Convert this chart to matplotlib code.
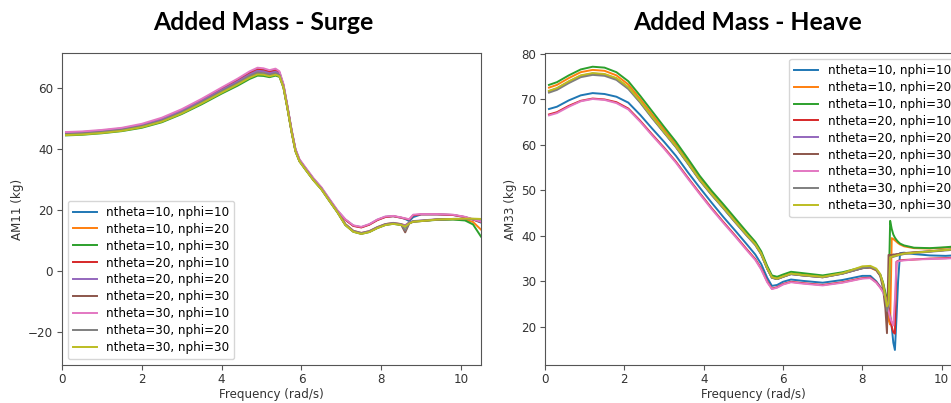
import numpy as np
from matplotlib import pyplot as plt

# Frequency grids (rad/s)
freq_surge = [0.1, 0.5, 1.0, 1.5, 2.0, 2.5, 3.0, 3.5, 4.0, 4.4, 4.7, 4.9, 5.05, 5.2, 5.35,
              5.45, 5.55, 5.65, 5.75, 5.85, 5.95, 6.1, 6.3, 6.5, 6.7, 6.9, 7.1, 7.3, 7.5,
              7.7, 7.9, 8.1, 8.3, 8.5, 8.6, 8.7, 8.8, 9.0, 9.4, 9.8, 10.1, 10.3, 10.5]

freq_heave = [0.1, 0.3, 0.6, 0.9, 1.2, 1.5, 1.8, 2.1, 2.4, 2.7, 3.0, 3.3, 3.6, 3.9, 4.2,
              4.5, 4.8, 5.1, 5.3, 5.45, 5.6, 5.72, 5.85, 6.0, 6.2, 6.5, 7.0, 7.5, 8.0, 8.2,
              8.35, 8.45, 8.52, 8.58, 8.62, 8.66, 8.7, 8.74, 8.78, 8.82, 8.86, 8.9, 8.95,
              9.05, 9.3, 9.7, 10.1, 10.5]

labels = ['ntheta=10, nphi=10', 'ntheta=10, nphi=20', 'ntheta=10, nphi=30',
          'ntheta=20, nphi=10', 'ntheta=20, nphi=20', 'ntheta=20, nphi=30',
          'ntheta=30, nphi=10', 'ntheta=30, nphi=20', 'ntheta=30, nphi=30']

# AM11 - surge added mass (kg)
am11_t10_p10 = [45.3, 45.5, 46.0, 46.7, 47.9, 49.9, 52.7, 56.0, 59.7, 62.6, 65.0, 66.1, 65.9, 65.3, 65.8,
                65.0, 60.9, 53.8, 46.3, 39.8, 36.4, 33.7, 30.2, 27.2, 23.4, 19.7,
                16.8, 14.8, 14.3, 15.2, 16.7, 17.7, 17.9, 17.4, 17.0, 16.3, 17.6, 18.5, 18.5, 18.3, 17.6, 16.8, 15.8]
am11_t10_p20 = [45.0, 45.2, 45.7, 46.4, 47.6, 49.5, 52.3, 55.6, 59.2, 62.0, 64.3, 65.5, 65.3, 64.7, 65.2,
                64.5, 60.5, 53.5, 46.0, 39.5, 36.2, 33.5, 30.0, 27.0, 23.2, 19.5,
                15.3, 13.1, 12.4, 13.0, 14.3, 15.3, 15.7, 15.3, 14.9, 15.8, 16.2, 16.4, 16.8, 16.9, 16.8, 16.0, 13.5]
am11_t10_p30 = [44.4, 44.6, 45.1, 45.8, 46.9, 48.7, 51.4, 54.6, 58.1, 60.7, 62.9, 64.0, 63.9, 63.5, 64.0,
                63.6, 60.0, 53.2, 45.7, 39.2, 35.9, 33.2, 29.7, 26.7, 22.9, 19.2,
                15.0, 12.8, 12.1, 12.7, 14.0, 15.0, 15.4, 15.0, 14.4, 15.6, 16.1, 16.3, 16.7, 16.8, 16.5, 15.2, 11.2]
am11_t20_p10 = [45.2, 45.4, 45.9, 46.6, 47.8, 49.8, 52.6, 55.9, 59.6, 62.4, 64.8, 66.0, 65.8, 65.2, 65.7,
                64.9, 60.8, 53.7, 46.2, 39.7, 36.3, 33.6, 30.1, 27.1, 23.3, 19.6,
                16.7, 14.7, 14.2, 15.1, 16.6, 17.6, 17.9, 17.4, 17.1, 16.8, 18.2, 18.5, 18.5, 18.3, 17.6, 16.8, 16.0]
am11_t20_p20 = [45.1, 45.3, 45.8, 46.5, 47.7, 49.6, 52.4, 55.7, 59.3, 62.1, 64.4, 65.6, 65.4, 64.8, 65.3,
                64.6, 60.6, 53.6, 46.1, 39.6, 36.2, 33.5, 30.0, 27.0, 23.1, 19.4,
                15.3, 13.1, 12.4, 13.0, 14.3, 15.3, 15.7, 15.3, 14.8, 15.9, 16.3, 16.5, 16.9, 17.0, 17.0, 16.9, 16.8]
am11_t20_p30 = [44.7, 44.9, 45.4, 46.1, 47.3, 49.1, 51.8, 55.1, 58.7, 61.4, 63.6, 64.8, 64.6, 64.1, 64.6,
                64.0, 60.2, 53.3, 45.8, 39.3, 36.0, 33.3, 29.8, 26.8, 23.0, 19.3,
                15.1, 12.9, 12.2, 12.8, 14.1, 15.1, 15.5, 15.1, 12.6, 15.5, 16.1, 16.3, 16.8, 17.0, 17.0, 17.0, 16.9]
am11_t30_p10 = [45.5, 45.7, 46.2, 46.9, 48.2, 50.2, 53.0, 56.4, 60.1, 63.0, 65.4, 66.6, 66.4, 65.8, 66.3,
                65.4, 61.2, 54.0, 46.5, 40.0, 36.6, 33.9, 30.4, 27.4, 23.6, 19.9,
                16.9, 14.9, 14.4, 15.3, 16.8, 17.8, 18.0, 17.5, 17.2, 16.9, 18.4, 18.6, 18.6, 18.4, 17.7, 16.9, 16.1]
am11_t30_p20 = [44.8, 45.0, 45.5, 46.2, 47.4, 49.2, 52.0, 55.3, 58.9, 61.6, 63.9, 65.0, 64.8, 64.3, 64.8,
                64.2, 60.3, 53.4, 45.9, 39.4, 36.1, 33.4, 29.9, 26.9, 23.1, 19.4,
                15.2, 13.0, 12.3, 12.9, 14.2, 15.2, 15.6, 15.2, 13.2, 15.6, 16.2, 16.4, 16.8, 17.0, 17.0, 17.0, 16.9]
am11_t30_p30 = [44.5, 44.7, 45.2, 45.9, 47.1, 48.9, 51.6, 54.9, 58.4, 61.1, 63.3, 64.4, 64.3, 63.8, 64.3,
                63.8, 60.1, 53.2, 45.7, 39.2, 35.9, 33.2, 29.7, 26.7, 22.9, 19.2,
                15.0, 12.8, 12.1, 12.7, 14.0, 15.0, 15.4, 15.0, 14.5, 15.5, 16.1, 16.3, 16.8, 17.0, 17.1, 17.1, 17.0]

# AM33 - heave added mass (kg)
am33_t10_p10 = [67.9, 68.4, 69.8, 70.9, 71.4, 71.2, 70.6, 69.3, 66.6, 63.6, 60.7, 57.6, 54.0, 50.6, 47.3,
                44.1, 41.1, 38.0, 35.9, 33.8, 30.8, 29.0, 29.2, 29.9, 30.4, 30.1, 29.7, 30.3, 31.2, 31.2,
                30.0, 28.8, 28.0, 27.0, 26.0, 24.5, 22.5, 20.0, 16.5, 14.9, 22.0, 30.0, 36.2, 36.3, 36.0, 35.7, 35.6, 35.8]
am33_t10_p20 = [72.6, 73.2, 74.7, 76.0, 76.5, 76.3, 75.3, 73.3, 70.1, 66.7, 63.4, 60.1, 56.4, 52.7, 49.4,
                46.4, 43.3, 40.2, 38.3, 36.2, 33.0, 31.0, 30.7, 31.2, 31.8, 31.5, 31.1, 31.8, 32.9, 33.0,
                32.4, 31.3, 29.6, 27.0, 24.0, 21.5, 20.5, 39.5, 39.3, 39.0, 38.7, 38.4, 38.1, 37.7, 37.3, 37.2, 37.4, 37.7]
am33_t10_p30 = [73.2, 73.8, 75.3, 76.6, 77.2, 77.0, 76.0, 74.0, 70.8, 67.4, 64.0, 60.7, 57.0, 53.2, 49.9,
                46.9, 43.8, 40.7, 38.7, 36.6, 33.4, 31.3, 31.0, 31.5, 32.1, 31.8, 31.3, 32.0, 33.1, 33.2,
                32.6, 31.5, 29.8, 27.5, 26.0, 26.5, 43.3, 41.5, 40.3, 39.6, 39.1, 38.7, 38.3, 37.9, 37.4, 37.3, 37.5, 37.8]
am33_t20_p10 = [66.7, 67.2, 68.6, 69.7, 70.2, 70.0, 69.4, 68.0, 65.3, 62.3, 59.4, 56.3, 52.8, 49.4, 46.1,
                43.0, 40.0, 36.9, 34.9, 32.8, 30.0, 28.4, 28.7, 29.4, 29.9, 29.6, 29.2, 29.8, 30.7, 30.8,
                29.8, 28.7, 27.8, 26.8, 25.5, 24.0, 22.0, 20.0, 18.8, 18.5, 34.3, 34.5, 34.6, 34.7, 34.8, 35.0, 35.1, 35.3]
am33_t20_p20 = [71.7, 72.3, 73.8, 75.1, 75.6, 75.4, 74.5, 72.5, 69.4, 66.0, 62.8, 59.6, 56.0, 52.3, 49.1,
                46.1, 43.0, 40.0, 38.1, 36.0, 32.8, 30.8, 30.5, 31.0, 31.6, 31.3, 30.9, 31.7, 32.9, 33.1,
                32.6, 31.4, 29.3, 26.2, 24.0, 25.0, 35.3, 35.4, 35.5, 35.6, 35.7, 35.8, 35.9, 36.1, 36.3, 36.6, 36.9, 37.2]
am33_t20_p30 = [71.8, 72.4, 73.9, 75.2, 75.7, 75.5, 74.6, 72.6, 69.5, 66.1, 62.8, 59.6, 56.0, 52.3, 49.1,
                46.1, 43.0, 40.0, 38.1, 36.0, 32.8, 30.8, 30.5, 31.0, 31.6, 31.3, 30.9, 31.7, 32.9, 33.1,
                32.5, 31.2, 28.5, 24.0, 18.6, 35.8, 35.8, 35.8, 35.9, 35.9, 36.0, 36.0, 36.1, 36.2, 36.4, 36.6, 36.9, 37.2]
am33_t30_p10 = [66.5, 67.0, 68.4, 69.6, 70.1, 69.9, 69.2, 67.8, 65.1, 62.1, 59.2, 56.1, 52.6, 49.2, 45.9,
                42.8, 39.8, 36.7, 34.7, 32.6, 29.8, 28.3, 28.6, 29.3, 29.8, 29.5, 29.1, 29.7, 30.6, 30.7,
                29.7, 28.6, 27.6, 26.5, 25.0, 23.5, 22.0, 21.0, 20.3, 26.0, 34.2, 34.4, 34.5, 34.6, 34.8, 34.9, 35.0, 35.2]
am33_t30_p20 = [71.5, 72.1, 73.6, 74.9, 75.4, 75.2, 74.3, 72.3, 69.3, 65.9, 62.7, 59.5, 55.9, 52.2, 49.0,
                46.0, 42.9, 39.9, 38.0, 35.9, 32.8, 30.8, 30.5, 31.0, 31.6, 31.3, 30.9, 31.7, 32.9, 33.1,
                32.6, 31.4, 29.3, 26.0, 23.5, 24.8, 35.2, 35.3, 35.4, 35.5, 35.6, 35.7, 35.8, 36.0, 36.2, 36.5, 36.8, 37.1]
am33_t30_p30 = [71.9, 72.5, 74.0, 75.3, 75.8, 75.6, 74.7, 72.7, 69.6, 66.2, 62.9, 59.7, 56.1, 52.4, 49.2,
                46.2, 43.1, 40.1, 38.2, 36.1, 32.9, 30.9, 30.6, 31.1, 31.7, 31.4, 31.0, 31.8, 33.3, 33.4,
                32.8, 31.6, 29.5, 26.5, 24.5, 25.2, 35.3, 35.4, 35.5, 35.6, 35.7, 35.8, 35.9, 36.1, 36.3, 36.6, 36.9, 37.2]

am11 = [am11_t10_p10, am11_t10_p20, am11_t10_p30, am11_t20_p10, am11_t20_p20,
        am11_t20_p30, am11_t30_p10, am11_t30_p20, am11_t30_p30]
am33 = [am33_t10_p10, am33_t10_p20, am33_t10_p30, am33_t20_p10, am33_t20_p20,
        am33_t20_p30, am33_t30_p10, am33_t30_p20, am33_t30_p30]

plt.rcParams['font.size'] = 8.6
plt.rcParams['axes.edgecolor'] = '#555555'
plt.rcParams['xtick.color'] = '#555555'
plt.rcParams['ytick.color'] = '#555555'
plt.rcParams['xtick.labelcolor'] = '#333333'
plt.rcParams['ytick.labelcolor'] = '#333333'
plt.rcParams['xtick.major.pad'] = 2.5
plt.rcParams['ytick.major.pad'] = 3
plt.rcParams['axes.labelpad'] = 1.5
plt.rcParams['legend.labelspacing'] = 0.33

fig = plt.figure(figsize=(9.51, 4.03), dpi=100)

# Surge
ax1 = fig.add_axes([0.0652, 0.0943, 0.4406, 0.774])
for vals, lab in zip(am11, labels):
    ax1.plot(freq_surge, vals, lw=1.4, label=lab)
ax1.set_xlim(0, 10.5)
ax1.set_ylim(-30.9, 71.4)
ax1.set_yticks([-20, 0, 20, 40, 60])
ax1.set_xticks([0, 2, 4, 6, 8, 10])
ax1.set_xlabel('Frequency (rad/s)', color='#333333')
ax1.set_ylabel('AM11 (kg)', color='#333333', labelpad=3)
ax1.legend(loc='lower left')

# Heave
ax2 = fig.add_axes([0.5731, 0.0943, 0.438, 0.774])
for vals, lab in zip(am33, labels):
    ax2.plot(freq_heave, vals, lw=1.4, label=lab)
ax2.set_xlim(0, 10.5)
ax2.set_ylim(11.6, 80.2)
ax2.set_yticks([20, 30, 40, 50, 60, 70, 80])
ax2.set_xticks([0, 2, 4, 6, 8, 10])
ax2.set_xlabel('Frequency (rad/s)', color='#333333')
ax2.set_ylabel('AM33 (kg)', color='#333333', labelpad=3)
ax2.legend(loc='upper right')

fig.text(0.277, 0.945, 'Added Mass - Surge', ha='center', va='center',
         fontsize=17.8, fontweight='bold', family='Lato')
fig.text(0.7865, 0.945, 'Added Mass - Heave', ha='center', va='center',
         fontsize=17.8, fontweight='bold', family='Lato')

fig.savefig('out.png', dpi=100)
